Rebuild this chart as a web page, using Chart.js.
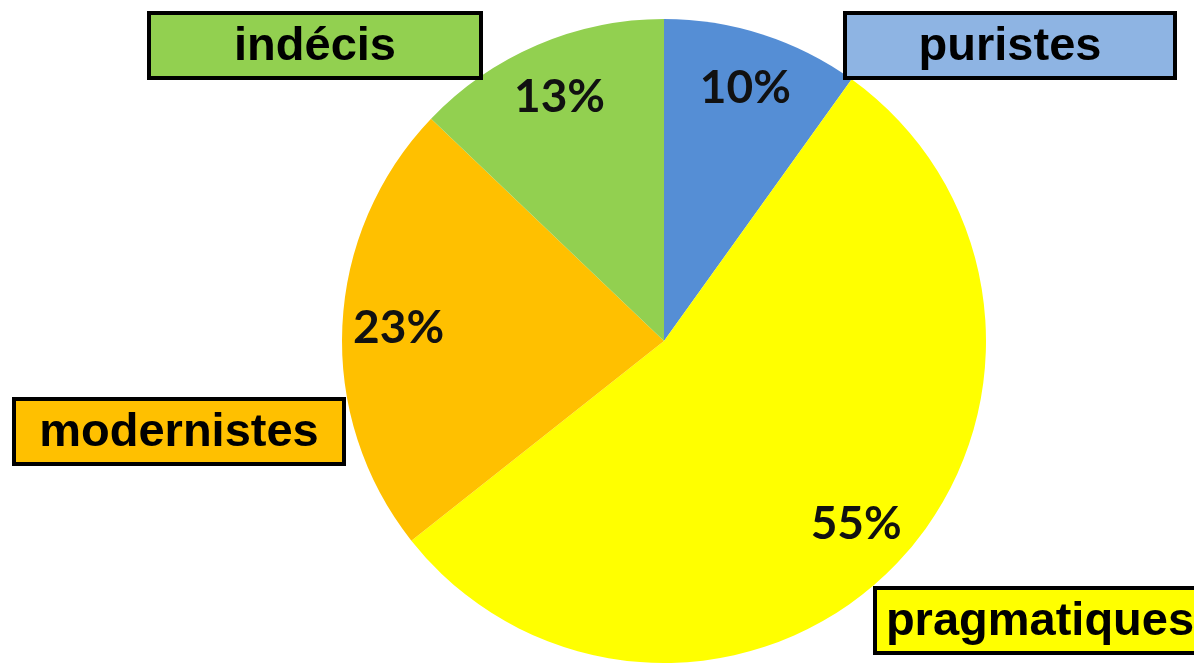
<!DOCTYPE html>
<html>
<head>
<meta charset="utf-8">
<script src="https://cdn.jsdelivr.net/npm/chart.js@4/dist/chart.umd.min.js"></script>
<style>
  html, body { margin: 0; padding: 0; background: #fff; }
  #wrap { width: 1194px; height: 663px; position: relative; }
</style>
</head>
<body>
<div id="wrap"><canvas id="chart" width="1194" height="663"></canvas></div>
<script>
const LABELS = ['puristes', 'pragmatiques', 'modernistes', 'indécis'];
const VALUES = [10, 55, 23, 13];
const SLICE_COLORS = ['#558ED5', '#FFFF00', '#FFC000', '#92D050'];
const BOX_COLORS = ['#8EB4E3', '#FFFF00', '#FFC000', '#92D050'];

// callout boxes: left, top, width, height
const BOXES = [
  { x: 845, y: 13, w: 330, h: 65 },
  { x: 875, y: 588, w: 330, h: 65 },
  { x: 14, y: 399, w: 330, h: 65 },
  { x: 149, y: 13, w: 332, h: 65 },
];

const calloutPlugin = {
  id: 'callouts',
  afterDatasetsDraw(chart) {
    const ctx = chart.ctx;
    const meta = chart.getDatasetMeta(0);
    ctx.save();
    // percentage labels inside slices
    ctx.fillStyle = '#111';
    ctx.font = 'bold 46px Lato, "Open Sans", sans-serif';
    ctx.textAlign = 'center';
    ctx.textBaseline = 'middle';
    meta.data.forEach((arc, i) => {
      const p = arc.getProps(['x', 'y', 'startAngle', 'endAngle', 'outerRadius'], true);
      const mid = (p.startAngle + p.endAngle) / 2;
      const r = p.outerRadius * 0.825;
      ctx.fillText(VALUES[i] + '%', p.x + Math.cos(mid) * r, p.y + Math.sin(mid) * r);
    });
    // label boxes
    ctx.font = 'bold 47px "Liberation Sans", Arial, sans-serif';
    LABELS.forEach((lab, i) => {
      const b = BOXES[i];
      ctx.fillStyle = BOX_COLORS[i];
      ctx.fillRect(b.x, b.y, b.w, b.h);
      ctx.lineWidth = 4;
      ctx.strokeStyle = '#000';
      ctx.strokeRect(b.x, b.y, b.w, b.h);
      ctx.fillStyle = '#000';
      ctx.fillText(lab, b.x + b.w / 2, b.y + b.h / 2 + 2);
    });
    ctx.restore();
  }
};

new Chart(document.getElementById('chart'), {
  type: 'pie',
  data: {
    labels: LABELS,
    datasets: [{
      data: VALUES,
      backgroundColor: SLICE_COLORS,
      borderWidth: 0,
    }],
  },
  options: {
    responsive: false,
    animation: false,
    layout: { padding: { left: 342, right: 208, top: 19, bottom: 0 } },
    plugins: {
      legend: { display: false },
      tooltip: { enabled: false },
    },
  },
  plugins: [calloutPlugin],
});
</script>
</body>
</html>
